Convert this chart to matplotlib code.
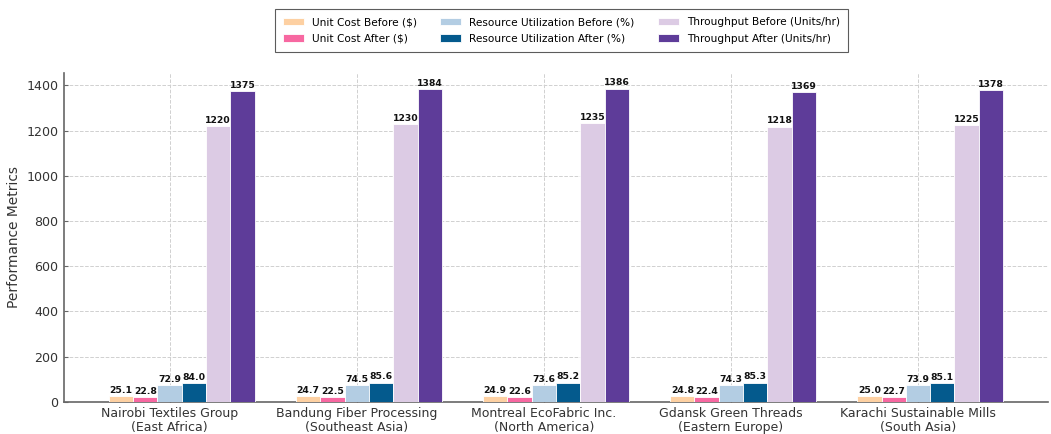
import numpy as np
import matplotlib.pyplot as plt

facilities = [
    'Nairobi Textiles Group\n(East Africa)',
    'Bandung Fiber Processing\n(Southeast Asia)',
    'Montreal EcoFabric Inc.\n(North America)',
    'Gdansk Green Threads\n(Eastern Europe)',
    'Karachi Sustainable Mills\n(South Asia)',
]

unit_cost_before = [25.1, 24.7, 24.9, 24.8, 25.0]
unit_cost_after = [22.8, 22.5, 22.6, 22.4, 22.7]
util_before = [72.9, 74.5, 73.6, 74.3, 73.9]
util_after = [84.0, 85.6, 85.2, 85.3, 85.1]
throughput_before = [1220, 1230, 1235, 1218, 1225]
throughput_after = [1375, 1384, 1386, 1369, 1378]

series = [
    ('Unit Cost Before ($)', unit_cost_before, '#fdd0a2', '{:.1f}'),
    ('Unit Cost After ($)', unit_cost_after, '#f768a1', '{:.1f}'),
    ('Resource Utilization Before (%)', util_before, '#b3cde3', '{:.1f}'),
    ('Resource Utilization After (%)', util_after, '#045a8d', '{:.1f}'),
    ('Throughput Before (Units/hr)', throughput_before, '#dccbe4', '{:.0f}'),
    ('Throughput After (Units/hr)', throughput_after, '#5e3c99', '{:.0f}'),
]

x = np.arange(len(facilities))
width = 0.13

fig, ax = plt.subplots(figsize=(10.51, 4.34), dpi=100)
fig.subplots_adjust(left=0.061, right=0.997, bottom=0.074, top=0.832)

for i, (label, vals, color, fmt) in enumerate(series):
    bars = ax.bar(x + (i - 2) * width, vals, width, label=label, color=color,
                  edgecolor='white', linewidth=0.6, zorder=3)
    for b, v in zip(bars, vals):
        ax.text(b.get_x() + b.get_width() / 2, v + 5, fmt.format(v),
                ha='center', va='bottom', fontsize=6.7, fontweight='bold',
                color='#111111', zorder=4)

ax.set_xticks(x)
ax.set_xticklabels(facilities, fontsize=9, color='#333333', linespacing=1.05)
ax.tick_params(axis='y', labelsize=9.1, labelcolor='#333333')
ax.tick_params(direction='in', length=3, width=0.8, color='#666666', pad=4)
ax.set_ylabel('Performance Metrics', fontsize=9.9, color='#333333')

ax.grid(True, linestyle='--', color='#d0d0d0', linewidth=0.7, zorder=0)
ax.set_axisbelow(True)
for side in ['top', 'right']:
    ax.spines[side].set_visible(False)
for side in ['left', 'bottom']:
    ax.spines[side].set_color('#666666')
    ax.spines[side].set_linewidth(1.2)

leg = fig.legend(*ax.get_legend_handles_labels(), loc='lower center',
                 bbox_to_anchor=(0.534, 0.869), ncol=3, fontsize=7.6,
                 frameon=True, fancybox=False, edgecolor='#333333',
                 handlelength=2.0, handletextpad=0.75, columnspacing=2.2,
                 labelspacing=0.6, borderpad=0.75)
leg.get_frame().set_linewidth(0.8)

fig.savefig('out.png', dpi=100)
